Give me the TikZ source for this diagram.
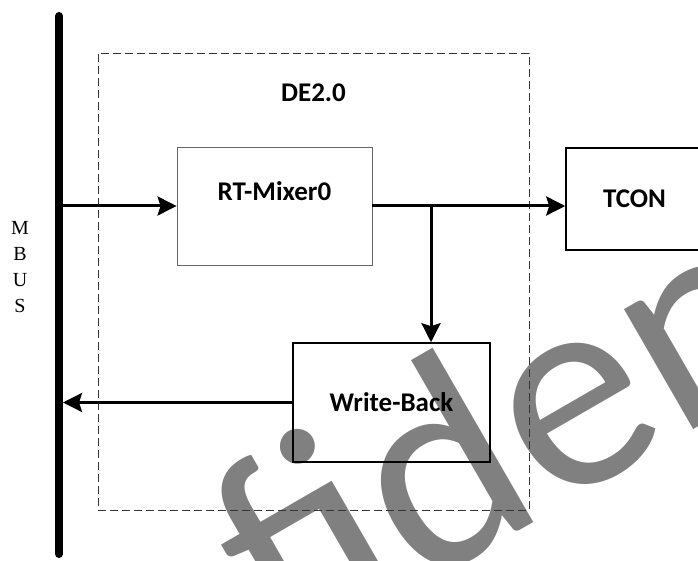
\documentclass[tikz,border=0pt]{standalone}
\usepackage{fontspec}
\newfontfamily\calibri{Carlito}
\newfontfamily\timesr{Liberation Serif}
\usetikzlibrary{arrows.meta}

\begin{document}
\begin{tikzpicture}[x=1pt, y=-1pt,
		blk/.style={draw, line width=1.5pt, inner sep=0},
		lbl/.style={font=\calibri\bfseries\fontsize{27}{30}\selectfont, inner sep=0},
		wire/.style={line width=3pt},
		arr/.style={wire, -{Stealth[length=19pt, width=19pt, inset=3pt]}}]
			%%%%% START %%%%%
			\clip (0, 0) rectangle (698, 561);
			
			% watermark, behind everything
			\node[rotate=30, anchor=base west, inner sep=0, text=black!50, font=\calibri\fontsize{290}{300}\selectfont] (wm) at (-110, 894) {Confidential};
			
			% bus
			\coordinate (bustop) at (59, 16);
			\coordinate (busbot) at (59, 554);
			\draw[line width=8pt, line cap=round] (bustop) -- (busbot);
			\node[font=\timesr\fontsize{20}{26}\selectfont, align=center, inner sep=0] (mbus) at (20, 267) {M\\B\\U\\S};
			
			% DE2.0 frame
			\node[draw=black!80, line width=0.9pt, dash pattern=on 8pt off 4pt, minimum width=431, minimum height=457, inner sep=0] (de) at (313.5, 281.5) {};
			\node[lbl] (detitle) at ([yshift=-40.5pt]de.north) {DE2.0};
			
			\node[draw=black!60, line width=0.9pt, minimum width=195, minimum height=118, inner sep=0] (mixer) at (274.5, 206) {};
			\node[lbl] (mixertitle) at ([yshift=15pt]mixer.center) {RT-Mixer0};
			
			\node[blk, minimum width=137, minimum height=102] (tcon) at (634.5, 199) {};
			\node[lbl] (tcontitle) at (tcon.center) {TCON};
			
			\node[blk, minimum width=197, minimum height=119] (wback) at (391.5, 402.5) {};
			\node[lbl] (wbacktitle) at (wback.center) {Write-Back};
			
			% connections
			\coordinate (split) at (431, 206);
			\draw[arr] (bustop |- mixer.west) -- (mixer.west);
			\draw[arr] (mixer.east) -- (mixer.east -| tcon.west);
			\draw[arr] (split) -- (split |- wback.north);
			\draw[arr] (wback.west) -- ([xshift=4pt]bustop |- wback.west);
			
			%%%%% END %%%%%
		\end{tikzpicture}
\end{document}
